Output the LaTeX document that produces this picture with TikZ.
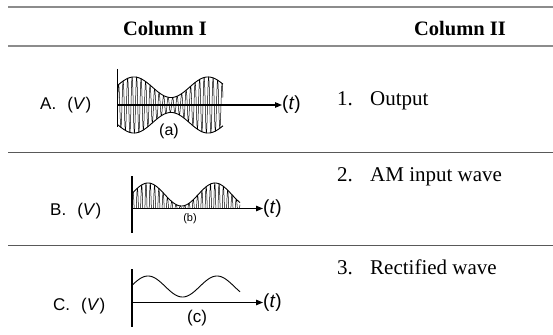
\documentclass[tikz,border=0pt]{standalone}
\usepackage{fontspec}
\setmainfont{Liberation Serif}
\setsansfont{Liberation Sans}
\usetikzlibrary{arrows.meta}
\begin{document}
\begin{tikzpicture}[x=1pt,y=-1pt,
  toprule/.style={draw=black!45,line width=1.8pt},
  rowrule/.style={draw=black!65,line width=1pt},
  hdr/.style={anchor=base,inner sep=0pt,font=\fontsize{20.5}{24}\selectfont\bfseries},
  item/.style={anchor=base west,inner sep=0pt,font=\fontsize{21}{24}\selectfont},
  rowlbl/.style={anchor=west,inner sep=0pt,font=\fontsize{17}{20}\sffamily},
  tlbl/.style={anchor=west,inner sep=0pt,font=\fontsize{19}{22}\sffamily},
  caption/.style={inner sep=0pt,font=\fontsize{16}{18}\sffamily},
  axisline/.style={line width=1.1pt},
  axisarrow/.style={line width=1.1pt,-{Triangle[length=7pt,width=5.5pt]}},
  envline/.style={line width=0.9pt},
  carrier/.style={line width=0.5pt},
  declare function={envA(\t)=17.75*(1+0.58*cos(4.8649*(\t-134)));
                    topB(\t)=194.5-11.5*cos(5.3731*(\t-148));}
]
\useasboundingbox (0,0) rectangle (553,334);

% table rules
\coordinate (r1a) at (8,7);   \coordinate (r1b) at (553,7);
\coordinate (r2a) at (8,46);  \coordinate (r2b) at (553,46);
\coordinate (r3a) at (8,152); \coordinate (r3b) at (553,152);
\coordinate (r4a) at (8,245.5); \coordinate (r4b) at (553,245.5);
\draw[toprule] (r1a) -- (r1b);
\draw[toprule] (r2a) -- (r2b);
\draw[rowrule] (r3a) -- (r3b);
\draw[rowrule] (r4a) -- (r4b);

% headers
\node[hdr] (h1) at (165,36) {Column I};
\node[hdr] (h2) at (460,36) {Column II};

% column II items
\node[item] (n1) at (337,105) {1.};
\node[item] (i1) at (370,105) {Output};
\node[item] (n2) at (337,181) {2.};
\node[item] (i2) at (370,181) {AM input wave};
\node[item] (n3) at (337,274.5) {3.};
\node[item] (i3) at (370,274.5) {Rectified wave};

% row labels
\node[rowlbl] (la) at (40,105) {A.\hspace{11pt}(\textit{V})};
\node[rowlbl] (lb) at (50,211.5) {B.\hspace{11pt}(\textit{V})};
\node[rowlbl] (lc) at (53,306.5) {C.\hspace{11pt}(\textit{V})};

% ---- graph A ----
\coordinate (aTop) at (117.5,69);
\coordinate (aBot) at (117.5,127);
\coordinate (aO) at (117.5,105);
\node[tlbl] (tA) at (282,105) {(\textit{t})};
\draw[axisline] (aTop) -- (aBot);
\draw[axisarrow] (aO) -- (tA.west);
\draw[envline] plot[domain=117.5:223,samples=120,smooth] (\x,{105-envA(\x)});
\draw[envline] plot[domain=117.5:223,samples=120,smooth] (\x,{105+envA(\x)});
\draw[carrier] plot[domain=117.5:223,samples=1000] (\x,{105-envA(\x)*sin(80*(\x-117.5))});
\node[caption] (ca) at (169,131) {(a)};

% ---- graph B ----
\coordinate (bTop) at (132,176);
\coordinate (bBot) at (132,233);
\coordinate (bO) at (132,208.5);
\node[tlbl] (tB) at (263,208.5) {(\textit{t})};
\draw[axisline] (bTop) -- (bBot);
\draw[axisarrow] (bO) -- (tB.west);
\draw[envline] plot[domain=132:240,samples=120,smooth] (\x,{topB(\x)});
\draw[carrier] plot[domain=132:240,samples=1100] (\x,{208.5-(208.5-topB(\x))*max(0,sin(83.72*(\x-132)))});
\node[caption,font=\fontsize{11}{13}\sffamily] (cb) at (190,219) {(b)};

% ---- graph C ----
\coordinate (cTop) at (132,269);
\coordinate (cBot) at (132,327);
\coordinate (cO) at (132,302.5);
\node[tlbl] (tC) at (263,302.5) {(\textit{t})};
\draw[axisline] (cTop) -- (cBot);
\draw[axisarrow] (cO) -- (tC.west);
\draw[envline] plot[domain=132:240,samples=120,smooth] (\x,{286.5-10.5*cos(5.2174*(\x-148))});
\node[caption,font=\fontsize{17}{19}\sffamily] (cc) at (197,318) {(c)};
\end{tikzpicture}
\end{document}
